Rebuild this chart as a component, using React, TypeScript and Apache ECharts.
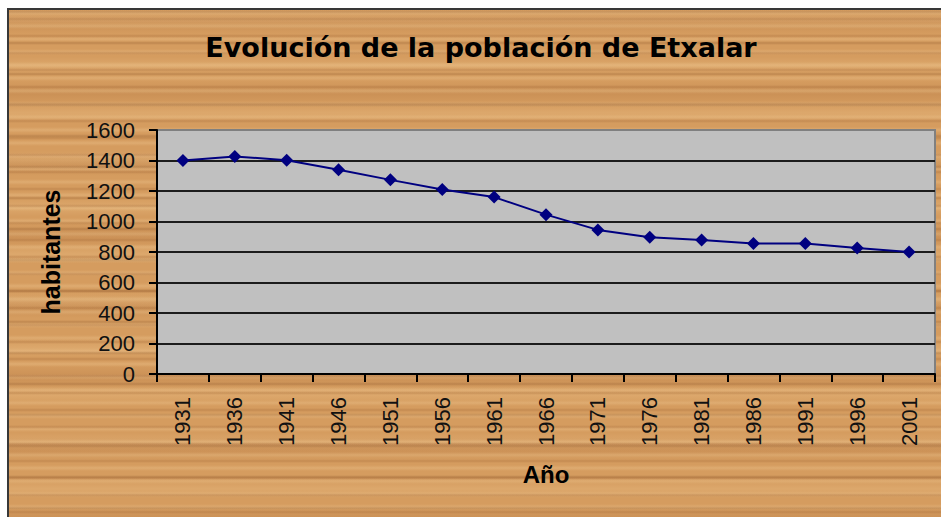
import React, { useEffect, useRef } from "react";
import * as echarts from "echarts";

const years = ["1931", "1936", "1941", "1946", "1951", "1956", "1961", "1966", "1971", "1976", "1981", "1986", "1991", "1996", "2001"];
const population = [1400, 1427, 1402, 1340, 1273, 1210, 1160, 1045, 945, 896, 878, 856, 856, 826, 800];
const yMin = 0;
const yMax = 1600;
const yStep = 200;
const titleText = "Evolución de la población de Etxalar";
const yName = "habitantes";
const xName = "Año";

const wood =
  "repeating-linear-gradient(180deg, rgba(120,60,20,0) 0px, rgba(120,60,20,0) 7px, rgba(120,60,20,0.18) 9px, rgba(120,60,20,0) 11px, rgba(120,60,20,0) 17px)," +
  "repeating-linear-gradient(180deg, rgba(255,225,175,0) 0px, rgba(255,225,175,0.22) 3px, rgba(255,225,175,0) 6px, rgba(255,225,175,0) 13px)," +
  "repeating-linear-gradient(180deg, rgba(100,50,15,0) 0px, rgba(100,50,15,0.2) 2px, rgba(100,50,15,0) 4px, rgba(100,50,15,0) 31px)," +
  "repeating-linear-gradient(180deg, rgba(250,215,160,0) 0px, rgba(250,215,160,0.2) 9px, rgba(250,215,160,0) 18px, rgba(250,215,160,0) 47px)," +
  "repeating-linear-gradient(180deg, rgba(140,75,30,0) 0px, rgba(140,75,30,0.15) 12px, rgba(140,75,30,0) 24px, rgba(140,75,30,0) 71px)," +
  "#d59c5f";

export default function App() {
  const ref = useRef<HTMLDivElement>(null);
  useEffect(() => {
    if (!ref.current) return;
    const chart = echarts.init(ref.current, undefined, { renderer: "svg" });
    const gridColors = [];
    for (let v = yMin; v <= yMax; v += yStep) gridColors.push(v === yMax ? "#808080" : "#1c1c1c");
    chart.setOption({
      animation: false,
      graphic: [
        {
          type: "text",
          x: 472,
          y: 24,
          style: {
            text: titleText,
            textAlign: "center",
            textVerticalAlign: "top",
            fontFamily: "DejaVu Sans",
            fontWeight: "bold",
            fontSize: 27,
            fill: "#000",
          },
        },
      ],
      grid: {
        left: 148,
        top: 120,
        width: 778,
        height: 244,
        show: true,
        backgroundColor: "#c0c0c0",
        borderColor: "#808080",
        borderWidth: 2,
      },
      xAxis: {
        type: "category",
        data: years,
        boundaryGap: true,
        name: xName,
        nameLocation: "middle",
        nameGap: 88,
        nameTextStyle: { fontFamily: "Liberation Sans", fontWeight: "bold", fontSize: 24, color: "#000" },
        axisLine: { show: true, lineStyle: { color: "#000", width: 2 } },
        axisTick: { show: true, interval: 0, length: 8, lineStyle: { color: "#000", width: 2 } },
        axisLabel: {
          interval: 0,
          rotate: 90,
          margin: 23,
          fontFamily: "Liberation Sans",
          fontSize: 22,
          color: "#111",
        },
        splitLine: { show: false },
      },
      yAxis: {
        type: "value",
        min: yMin,
        max: yMax,
        interval: yStep,
        name: yName,
        nameLocation: "middle",
        nameRotate: 90,
        nameGap: 94,
        nameTextStyle: { fontFamily: "Liberation Sans", fontWeight: "bold", fontSize: 25, color: "#000" },
        axisLine: { show: true, lineStyle: { color: "#000", width: 2 } },
        axisTick: { show: true, length: 8, lineStyle: { color: "#000", width: 2 } },
        axisLabel: {
          margin: 22,
          fontFamily: "Liberation Sans",
          fontSize: 22,
          color: "#111",
          formatter: (v: number) => String(v),
        },
        splitLine: { show: true, lineStyle: { color: gridColors, width: 2 } },
      },
      series: [
        {
          type: "line",
          data: population,
          symbol: "diamond",
          symbolSize: 13,
          showAllSymbol: true,
          lineStyle: { color: "#000080", width: 2 },
          itemStyle: { color: "#000080" },
          z: 5,
        },
      ],
    });
    return () => chart.dispose();
  }, []);
  return (
    <div
      style={{
        position: "absolute",
        left: 7,
        top: 8,
        width: 934,
        height: 509,
        boxSizing: "border-box",
        borderTop: "2px solid #383838",
        borderLeft: "2px solid #383838",
        background: wood,
      }}
    >
      <div ref={ref} style={{ width: 932, height: 507 }} />
    </div>
  );
}
